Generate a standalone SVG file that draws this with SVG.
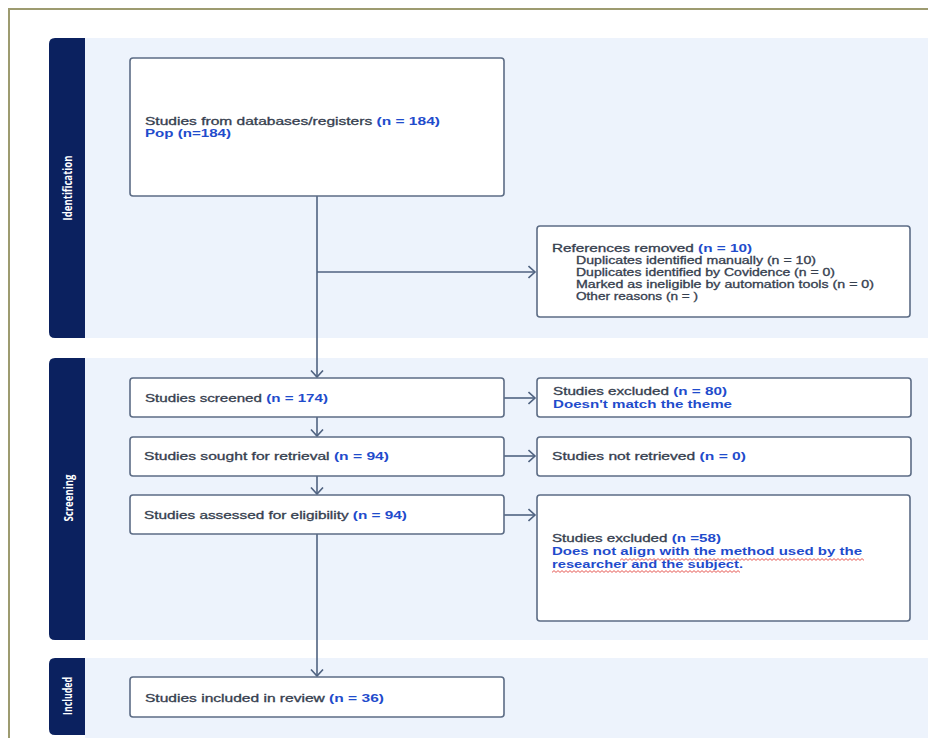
<svg xmlns="http://www.w3.org/2000/svg" width="928" height="738" viewBox="0 0 928 738">
<defs>
<style>
.band{fill:#edf3fc}
.side{fill:#0b215f}
.box{fill:#ffffff;stroke:#5c6c85;stroke-width:1.6}
.t{font-family:"Liberation Sans",Arial,sans-serif;font-weight:400;font-size:10.5px;fill:#36404f;stroke:#36404f;stroke-width:0.3}
.b{fill:#1f4ccc;stroke:none;font-weight:700}
.lbl{font-family:"Open Sans","Liberation Sans",sans-serif;font-weight:700;font-size:12px;fill:#ffffff}
.con{fill:none;stroke:#4f6280;stroke-width:1.6}
.sq{fill:url(#squig)}
</style>
<pattern id="squig" patternUnits="userSpaceOnUse" x="0" y="0" width="4" height="3">
<path d="M0,2.4 L2,0.6 L4,2.4" fill="none" stroke="#e0302a" stroke-width="0.8"/>
</pattern>
<marker id="ah" markerUnits="userSpaceOnUse" markerWidth="16" markerHeight="16" refX="7.5" refY="7" orient="auto">
<path d="M1,1 L7.5,7 L1,13" fill="none" stroke="#4f6280" stroke-width="1.6"/>
</marker>
</defs>
<rect x="0" y="0" width="928" height="738" fill="#ffffff"/>
<path d="M9,738 V9 H928" fill="none" stroke="#9d9b70" stroke-width="2"/>

<g id="phase-identification">
<rect class="band" x="85" y="38" width="843" height="300"/>
<path class="side" d="M55,38 H85 V338 H55 Q49,338 49,332 V44 Q49,38 55,38 Z"/>
<text class="lbl" transform="translate(72,188) rotate(-90)" text-anchor="middle" textLength="65" lengthAdjust="spacingAndGlyphs">Identification</text>
</g>
<g id="phase-screening">
<rect class="band" x="85" y="358" width="843" height="282"/>
<path class="side" d="M55,358 H85 V640 H55 Q49,640 49,634 V364 Q49,358 55,358 Z"/>
<text class="lbl" transform="translate(73,498) rotate(-90)" text-anchor="middle" textLength="47" lengthAdjust="spacingAndGlyphs">Screening</text>
</g>
<g id="phase-included">
<rect class="band" x="85" y="658" width="843" height="80"/>
<path class="side" d="M55,658 H85 V735 H55 Q49,735 49,729 V664 Q49,658 55,658 Z"/>
<text class="lbl" transform="translate(72,696) rotate(-90)" text-anchor="middle" textLength="38" lengthAdjust="spacingAndGlyphs">Included</text>
</g>

<g id="connectors">
<path class="con" d="M317,196 V377" marker-end="url(#ah)"/>
<path class="con" d="M317,272 H535" marker-end="url(#ah)"/>
<path class="con" d="M317,417 V436" marker-end="url(#ah)"/>
<path class="con" d="M317,476 V494" marker-end="url(#ah)"/>
<path class="con" d="M317,534 V676" marker-end="url(#ah)"/>
<path class="con" d="M504,398 H535" marker-end="url(#ah)"/>
<path class="con" d="M504,456 H535" marker-end="url(#ah)"/>
<path class="con" d="M504,515 H535" marker-end="url(#ah)"/>
</g>

<g id="n-databases">
<rect class="box" x="130" y="58" width="374" height="138" rx="3"/>
<text class="t" x="145" y="125" textLength="295" lengthAdjust="spacingAndGlyphs">Studies from databases/registers <tspan class="b">(n = 184)</tspan></text>
<text class="t b" x="145" y="137" textLength="86" lengthAdjust="spacingAndGlyphs">Pop (n=184)</text>
</g>

<g id="n-removed">
<rect class="box" x="537" y="226" width="373" height="91" rx="3"/>
<text class="t" x="552" y="252" textLength="200" lengthAdjust="spacingAndGlyphs">References removed <tspan class="b">(n = 10)</tspan></text>
<text class="t" x="576" y="264" textLength="240" lengthAdjust="spacingAndGlyphs">Duplicates identified manually (n = 10)</text>
<text class="t" x="576" y="276" textLength="259" lengthAdjust="spacingAndGlyphs">Duplicates identified by Covidence (n = 0)</text>
<text class="t" x="576" y="288" textLength="298" lengthAdjust="spacingAndGlyphs">Marked as ineligible by automation tools (n = 0)</text>
<text class="t" x="576" y="300" textLength="122" lengthAdjust="spacingAndGlyphs">Other reasons (n = )</text>
</g>

<g id="n-screened">
<rect class="box" x="130" y="378" width="374" height="39" rx="3"/>
<text class="t" x="145" y="402" textLength="183" lengthAdjust="spacingAndGlyphs">Studies screened <tspan class="b">(n = 174)</tspan></text>
</g>

<g id="n-excluded80">
<rect class="box" x="537" y="378" width="374" height="39" rx="3"/>
<text class="t" x="553" y="395" textLength="174" lengthAdjust="spacingAndGlyphs">Studies excluded <tspan class="b">(n = 80)</tspan></text>
<text class="t b" x="553" y="408" textLength="179" lengthAdjust="spacingAndGlyphs">Doesn't match the theme</text>
</g>

<g id="n-sought">
<rect class="box" x="130" y="437" width="374" height="39" rx="3"/>
<text class="t" x="144" y="460" textLength="245" lengthAdjust="spacingAndGlyphs">Studies sought for retrieval <tspan class="b">(n = 94)</tspan></text>
</g>

<g id="n-notretrieved">
<rect class="box" x="537" y="437" width="374" height="39" rx="3"/>
<text class="t" x="552" y="460" textLength="194" lengthAdjust="spacingAndGlyphs">Studies not retrieved <tspan class="b">(n = 0)</tspan></text>
</g>

<g id="n-assessed">
<rect class="box" x="130" y="495" width="374" height="39" rx="3"/>
<text class="t" x="144" y="519" textLength="263" lengthAdjust="spacingAndGlyphs">Studies assessed for eligibility <tspan class="b">(n = 94)</tspan></text>
</g>

<g id="n-excluded58">
<rect class="box" x="537" y="495" width="373" height="126" rx="3"/>
<text class="t" x="552" y="542" textLength="169" lengthAdjust="spacingAndGlyphs">Studies excluded <tspan class="b">(n =58)</tspan></text>
<text class="t b" x="552" y="555" textLength="310" lengthAdjust="spacingAndGlyphs">Does not align with the method used by the</text>
<text class="t b" x="552" y="568" textLength="191" lengthAdjust="spacingAndGlyphs">researcher and the subject.</text>
<rect class="sq" x="620" y="558" width="244" height="3"/>
<rect class="sq" x="552" y="570" width="188" height="3"/>
</g>

<g id="n-included">
<rect class="box" x="130" y="677" width="374" height="40" rx="3"/>
<text class="t" x="145" y="702" textLength="239" lengthAdjust="spacingAndGlyphs">Studies included in review <tspan class="b">(n = 36)</tspan></text>
</g>
</svg>
